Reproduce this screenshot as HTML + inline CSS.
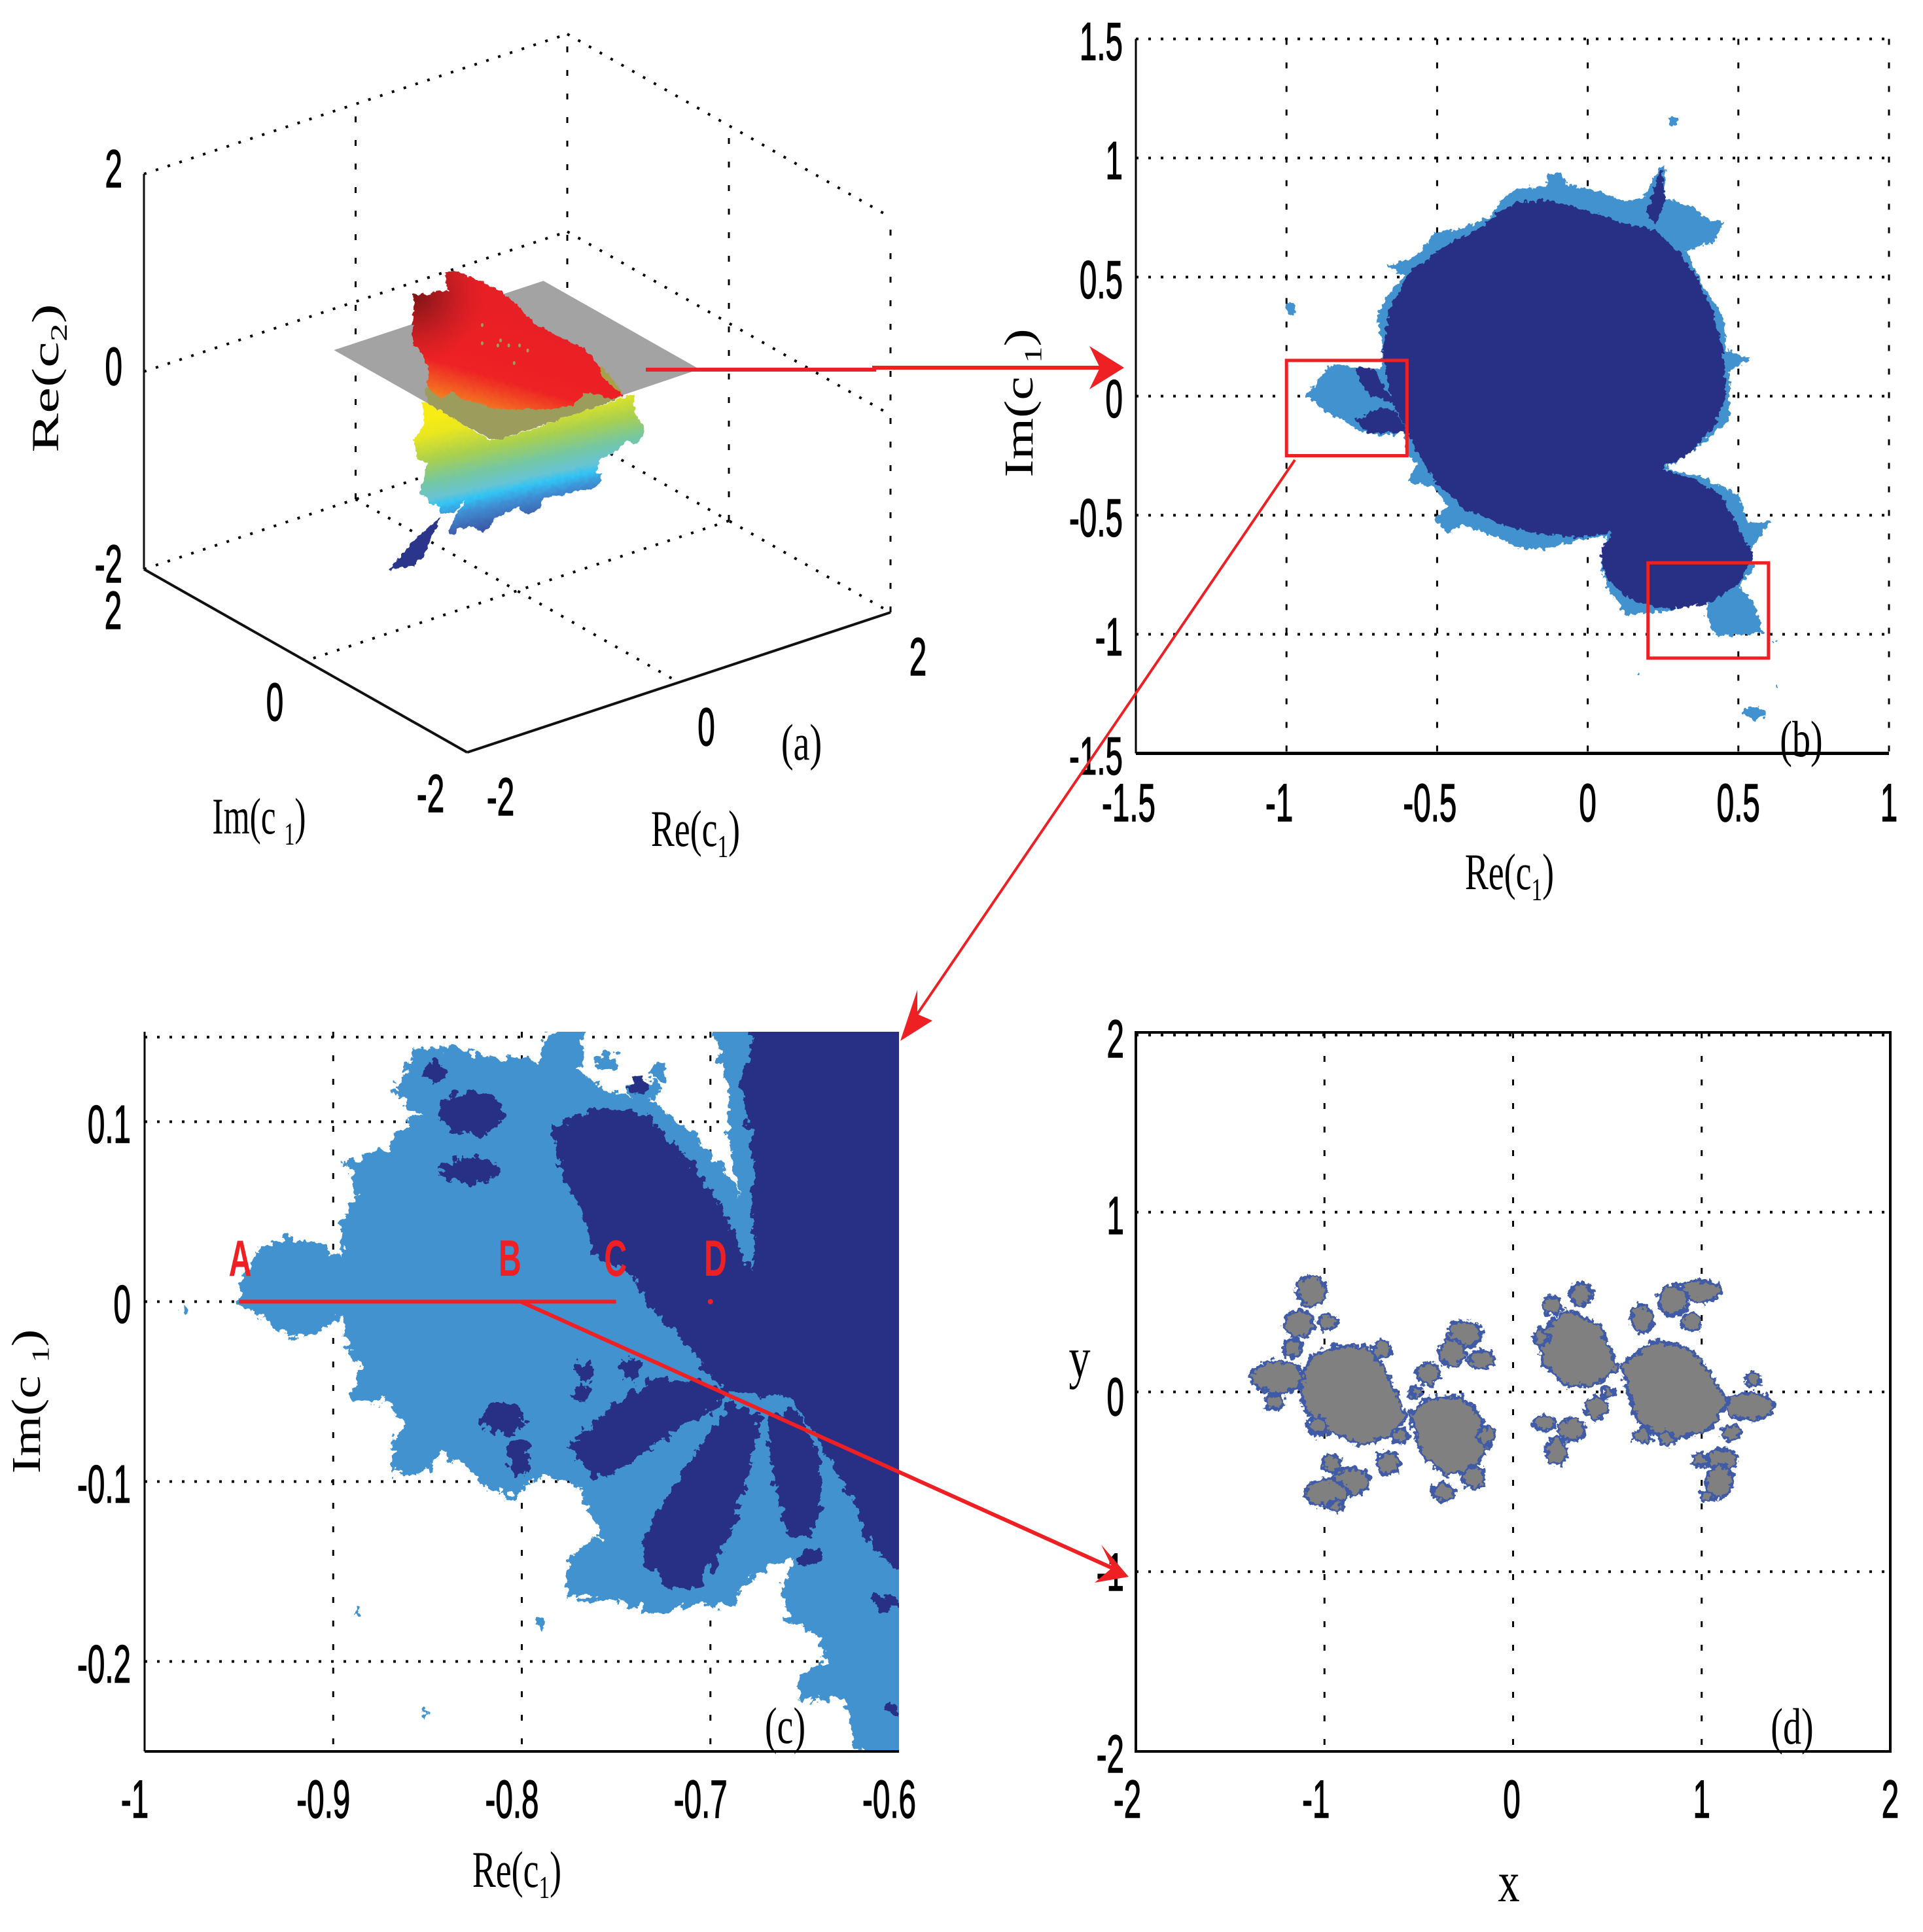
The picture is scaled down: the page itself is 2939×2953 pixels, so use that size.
<!DOCTYPE html>
<html lang="en">
<head>
<meta charset="utf-8">
<title>Parameter sets and Julia set figure</title>
<style>
html,body{margin:0;padding:0;background:#fff;}
svg{display:block;}
</style>
</head>
<body>
<svg id="figure" xmlns="http://www.w3.org/2000/svg" width="2939" height="2953" viewBox="0 0 2939 2953">
<defs>
<filter id="edge-fine" x="-5%" y="-5%" width="110%" height="110%" color-interpolation-filters="sRGB">
<feTurbulence type="fractalNoise" baseFrequency="0.07" numOctaves="4" seed="4" result="n"/>
<feDisplacementMap in="SourceGraphic" in2="n" scale="28" xChannelSelector="R" yChannelSelector="G"/>
</filter>
<filter id="edge-soft" x="-5%" y="-5%" width="110%" height="110%" color-interpolation-filters="sRGB">
<feTurbulence type="fractalNoise" baseFrequency="0.14" numOctaves="2" seed="9" result="n"/>
<feDisplacementMap in="SourceGraphic" in2="n" scale="12" xChannelSelector="R" yChannelSelector="G"/>
</filter>
<filter id="edge-surface" x="-5%" y="-5%" width="110%" height="110%" color-interpolation-filters="sRGB">
<feTurbulence type="fractalNoise" baseFrequency="0.14" numOctaves="2" seed="9" result="n"/>
<feDisplacementMap in="SourceGraphic" in2="n" scale="8" xChannelSelector="R" yChannelSelector="G"/>
</filter>
<filter id="edge-julia" x="-5%" y="-5%" width="110%" height="110%" color-interpolation-filters="sRGB">
<feTurbulence type="fractalNoise" baseFrequency="0.12" numOctaves="3" seed="6" result="n"/>
<feDisplacementMap in="SourceGraphic" in2="n" scale="16" xChannelSelector="R" yChannelSelector="G"/>
</filter>
<linearGradient id="jet-upper" gradientUnits="userSpaceOnUse" x1="682" y1="452" x2="632" y2="625">
<stop offset="0" stop-color="#e81f25"/><stop offset="0.55" stop-color="#ee2124"/><stop offset="0.8" stop-color="#f36f21"/><stop offset="1" stop-color="#fbb017"/>
</linearGradient>
<radialGradient id="dark-corner" gradientUnits="userSpaceOnUse" cx="635" cy="452" r="105">
<stop offset="0" stop-color="#7e1416" stop-opacity="1"/><stop offset="0.45" stop-color="#a81a1f" stop-opacity="0.75"/><stop offset="1" stop-color="#c41e23" stop-opacity="0"/>
</radialGradient>
<linearGradient id="jet-lower" gradientUnits="userSpaceOnUse" x1="740" y1="620" x2="794" y2="867">
<stop offset="0" stop-color="#f7ec13"/><stop offset="0.1" stop-color="#e9e620"/><stop offset="0.25" stop-color="#a9d04e"/><stop offset="0.38" stop-color="#76c7a0"/><stop offset="0.48" stop-color="#67c4d4"/><stop offset="0.53" stop-color="#31c3f4"/><stop offset="0.6" stop-color="#3f8fd4"/><stop offset="0.72" stop-color="#3d5ca9"/><stop offset="0.9" stop-color="#2d3c90"/><stop offset="1" stop-color="#272f83"/>
</linearGradient>
<clipPath id="clip-c"><rect x="221" y="1577" width="1153" height="1100"/></clipPath>
</defs>
<g id="panel-a"></g>
<g id="panel-b"></g>
<g id="panel-c"></g>
<g id="panel-d"></g>
<g id="annotations"></g>
</svg>
<script>
// ---------- panel a data (Re c1, Re c2 on the Im c1 = 0 sheet) ----------
const aTicks = [-2, 0, 2];
const aPlaneCorners = [[1.34,1.43],[1.34,-.5],[-.64,-.52],[-.64,1.43]];
const aSurfaceZOffset = .026;
const aSurfaceUpper = [[-.977,1.325],[-.811,1.255],[-.798,1.283],[-.657,1.245],[-.683,1.443],[-.606,1.427],[-.503,1.357],[-.388,1.261],[-.208,1.109],[-.055,.942],[.074,.754],[.150,.637],[.279,.513],[.458,.351],[.637,.199],[.740,.029],[.868,-.194],[1.009,-.400],[.919,-.412],[.637,-.245],[.535,-.331],[.355,-.314],[.022,-.196],[-.208,-.114],[-.311,-.032],[-.516,.095],[-.618,.220],[-.708,.163],[-.849,.324],[-.836,.498],[-.900,.697],[-.990,.818]];
const aSurfaceOlive = [[-.875,.333],[-.772,.297],[-.708,.163],[-.618,.220],[-.311,-.032],[.022,-.196],[.355,-.314],[.535,-.331],[.637,-.245],[.766,-.280],[.919,-.390],[.996,-.417],[.714,-.429],[.355,-.436],[.125,-.431],[-.157,-.444],[-.260,-.395],[-.567,-.110],[-.849,.179]];
const aSurfaceOliveEdge = [[.791,-.022],[1.009,-.400],[.919,-.301],[.791,-.122]];
const aSurfaceSpecks = [[-.331,.781],[-.157,.564],[-.183,.522],[-.080,.486],[.022,.450],[-.331,.597],[.099,.371],[-.029,.290]];
const aSurfaceLower = [[-.900,.197],[-.849,.179],[-.567,-.110],[-.260,-.407],[-.157,-.444],[.355,-.436],[.714,-.429],[.996,-.428],[1.099,-.432],[1.111,-.613],[1.201,-.812],[1.188,-.862],[1.137,-.945],[1.035,-.886],[.894,-.959],[.791,-.967],[.740,-1.093],[.791,-1.123],[.791,-1.211],[.689,-1.242],[.535,-1.209],[.407,-1.209],[.253,-1.177],[.202,-1.269],[.099,-1.288],[-.003,-1.175],[-.131,-1.207],[-.208,-1.213],[-.311,-1.332],[-.413,-1.230],[-.567,-1.198],[-.593,-1.256],[-.644,-1.214],[-.606,-1.095],[-.516,-.972],[-.477,-.929],[-.593,-1.023],[-.721,-.987],[-.734,-.906],[-.836,-.847],[-.862,-.760],[-.913,-.731],[-.913,-.653],[-.849,-.443],[-.939,-.355],[-.977,-.164],[-.900,-.047],[-.875,.022]];
const aSurfaceSliver = [[-.721,-1.015],[-.811,-1.201],[-.875,-1.356],[-.977,-1.431],[-1.208,-1.382],[-1.080,-1.261],[-.952,-1.151]];

// ---------- panel b data (Re c1, Im c1) ----------
const bXTicks = [-1.5,-1,-.5,0,.5,1];
const bXTickLabels = ['-1.5','-1','-0.5','0','0.5','1'];
const bYTicks = [1.5,1,.5,0,-.5,-1,-1.5];
const bYTickLabels = ['1.5','1','0.5','0','-0.5','-1','-1.5'];
const bLightRegion = [[-.670,.547],[-.599,.573],[-.558,.598],[-.507,.689],[-.426,.702],[-.324,.754],[-.293,.819],[-.242,.870],[-.141,.883],[-.130,.935],[-.090,.940],[-.069,.889],[.043,.858],[.124,.819],[.185,.832],[.236,.961],[.257,.961],[.257,.832],[.348,.793],[.399,.741],[.450,.733],[.420,.650],[.328,.611],[.379,.469],[.450,.339],[.460,.197],[.542,.158],[.470,.106],[.470,-.101],[.348,-.231],[.257,-.308],[.369,-.334],[.501,-.412],[.532,-.528],[.609,-.528],[.572,-.593],[.542,-.645],[.552,-.723],[.501,-.800],[.552,-.865],[.582,-.995],[.430,-1.008],[.393,-.930],[.399,-.865],[.226,-.909],[.124,-.917],[.063,-.800],[.043,-.723],[.063,-.588],[-.039,-.606],[-.141,-.645],[-.242,-.632],[-.324,-.580],[-.415,-.541],[-.466,-.580],[-.507,-.515],[-.466,-.464],[-.507,-.386],[-.599,-.360],[-.568,-.282],[-.599,-.244],[-.609,-.153],[-.690,-.166],[-.772,-.140],[-.813,-.101],[-.874,-.062],[-.935,.003],[-.853,.132],[-.690,.114],[-.680,.184],[-.701,.339],[-.650,.443],[-.609,.508]];
const bDarkRegion = [[-.303,.767],[-.242,.811],[-.151,.826],[-.069,.806],[.022,.767],[.114,.728],[.226,.697],[.308,.598],[.369,.482],[.420,.339],[.450,.184],[.460,.003],[.420,-.127],[.348,-.231],[.246,-.308],[.348,-.347],[.440,-.412],[.495,-.541],[.552,-.671],[.501,-.788],[.409,-.865],[.308,-.891],[.226,-.891],[.134,-.852],[.053,-.749],[.043,-.645],[.084,-.573],[-.039,-.593],[-.161,-.580],[-.283,-.541],[-.405,-.477],[-.507,-.360],[-.568,-.231],[-.650,-.023],[-.680,.184],[-.660,.365],[-.589,.521],[-.466,.637],[-.344,.715]];
const bDarkFanUpper = [[-.772,.119],[-.711,.119],[-.670,.028],[-.629,-.036],[-.721,.003],[-.751,.054]];
const bDarkFanLower = [[-.772,-.101],[-.690,-.049],[-.639,-.062],[-.599,-.153],[-.670,-.153],[-.731,-.153]];
const bDarkSpike = [[.246,.961],[.257,.832],[.226,.715],[.196,.767],[.216,.855]];
const bIslands = [[.283,1.155,.014,.02],[-.986,.365,.016,.026],[.552,-1.332,.037,.026],[.168,-1.17,.004,.006],[.62,-1.03,.003,.005],[.63,-1.215,.004,.005]];
const bZoomBoxes = [[-1,-.6,-.25,.15],[.2,.6,-1.1,-.7]];

// ---------- panel c data (Re c1, Im c1) ----------
const cXTicks = [-1,-.9,-.8,-.7,-.6];
const cXTickLabels = ['-1','-0.9','-0.8','-0.7','-0.6'];
const cYTicks = [.1,0,-.1,-.2];
const cYTickLabels = ['0.1','0','-0.1','-0.2'];
const cLightRegion = [[-.9515,0],[-.950,.0085],[-.940,.029],[-.924,.036],[-.904,.031],[-.895,.022],[-.896,.043],[-.888,.060],[-.893,.077],[-.872,.084],[-.860,.101],[-.852,.102],[-.869,.116],[-.860,.132],[-.856,.140],[-.836,.142],[-.817,.135],[-.791,.135],[-.787,.148],[-.765,.16],[-.769,.128],[-.752,.116],[-.732,.113],[-.709,.094],[-.688,.067],[-.678,.032],[-.677,.017],[-.679,.026],[-.685,.056],[-.688,.080],[-.691,.101],[-.690,.118],[-.695,.135],[-.701,.16],[-.59,.16],[-.59,-.26],[-.618,-.26],[-.623,-.244],[-.630,-.220],[-.644,-.222],[-.654,-.222],[-.651,-.207],[-.639,-.200],[-.644,-.184],[-.659,-.176],[-.662,-.159],[-.657,-.143],[-.672,-.150],[-.683,-.157],[-.688,-.169],[-.709,-.169],[-.732,-.173],[-.752,-.166],[-.776,-.164],[-.776,-.142],[-.758,-.130],[-.765,-.114],[-.771,-.101],[-.791,-.097],[-.807,-.109],[-.817,-.104],[-.826,-.094],[-.844,-.084],[-.849,-.094],[-.869,-.097],[-.869,-.077],[-.860,-.068],[-.873,-.055],[-.891,-.055],[-.885,-.036],[-.893,-.026],[-.895,-.007],[-.906,-.017],[-.924,-.019],[-.937,-.009]];
const cDarkMain = [[-.678,.16],[-.59,.16],[-.59,-.155],[-.6,-.150],[-.615,-.135],[-.626,-.108],[-.639,-.084],[-.657,-.053],[-.670,-.053],[-.693,-.050],[-.713,-.024],[-.732,-.002],[-.742,.015],[-.761,.026],[-.768,.050],[-.778,.070],[-.784,.096],[-.765,.106],[-.752,.109],[-.732,.102],[-.714,.082],[-.696,.056],[-.680,.022],[-.677,.017],[-.678,.050],[-.677,.084],[-.685,.121],[-.677,.142]];
const cDarkLobeLeft = [[-.755,-.060],[-.732,-.044],[-.709,-.043],[-.691,-.051],[-.698,-.060],[-.726,-.077],[-.752,-.097],[-.763,-.097],[-.776,-.080],[-.765,-.072]];
const cDarkLobeMiddle = [[-.673,-.063],[-.680,-.097],[-.690,-.132],[-.706,-.159],[-.722,-.159],[-.737,-.142],[-.734,-.128],[-.719,-.101],[-.698,-.070],[-.690,-.055]];
const cDarkLobeRight = [[-.669,-.063],[-.669,-.084],[-.665,-.104],[-.660,-.128],[-.647,-.132],[-.641,-.111],[-.643,-.084],[-.654,-.060]];
const cDarkIslands = [[-.766,-.039,.005,.006],[-.768,-.051,.005,.005],[-.742,-.038,.005,.007],[-.810,-.065,.011,.009],[-.802,-.087,.006,.010],[-.828,.073,.016,.007],[-.827,.105,.017,.012],[-.846,.128,.006,.005],[-.737,.120,.005,.005],[-.647,-.142,.006,.005],[-.607,-.167,.007,.004],[-.604,-.227,.003,.004]];
const cLightIslands = [[-.790,-.179,.0025,.0025],[-.979,-.004,.002,.002],[-.852,-.228,.0012,.002],[-.887,-.172,.001,.0015],[-.755,.133,.006,.005],[-.727,.128,.004,.006],[-.735,.118,.009,.005]];
const cSegment = [-.95,-.75];
const cPointD = [-.7,0];
const cPointLabels = ['A','B','C','D'];
const cPointLabelRe = [-.950,-.807,-.751,-.698];

// ---------- panel d data (x, y) ----------
const dXTicks = [-2,-1,0,1,2];
const dYTicks = [2,1,0,-1,-2];
const dTickLabels = ['-2','-1','0','1','2'];
const dLenses = [
 [[-1.135,.065],[-1.070,.202],[-.940,.253],[-.777,.253],[-.680,.133],[-.566,-.140],[-.647,-.243],[-.810,-.294],[-.972,-.226],[-1.102,-.106]],
 [[-.550,-.123],[-.452,-.038],[-.289,-.021],[-.192,-.106],[-.111,-.277],[-.208,-.431],[-.354,-.465],[-.485,-.345]],
 [[.572,.150],[.751,.287],[.946,.236],[1.044,.099],[1.141,-.055],[1.044,-.209],[.816,-.277],[.654,-.157]],
 [[.556,.133],[.459,.373],[.280,.458],[.150,.338],[.150,.168],[.280,.031],[.426,.031]]
];
const dBuds = [[-1.070,.561,.065,.068],[-1.135,.379,.065,.062],[-.982,.390,.039,.034],[-1.167,.243,.039,.041],[-1.249,.082,.114,.075],[-1.265,-.055,.039,.034],[-.696,.236,.039,.041],[-.452,.099,.049,.051],[-.517,-.003,.026,.027],[-.257,.321,.072,.062],[-.322,.219,.059,.062],[-.166,.178,.059,.041],[-.663,-.397,.049,.051],[-.598,-.243,.033,.034],[-.963,-.397,.039,.041],[-.859,-.499,.081,.062],[-.989,-.561,.091,.062],[-.940,-.636,.026,.027],[-.371,-.557,.046,.041],[-.208,-.475,.049,.051],[-.143,-.243,.039,.041],[-1.037,-.191,.039,.041],[.995,.561,.091,.048],[.849,.509,.065,.068],[.946,.390,.039,.041],[.686,.407,.049,.062],[.361,.544,.049,.051],[.205,.482,.039,.041],[.150,.304,.033,.034],[.442,-.089,.049,.051],[.507,-.003,.026,.027],[.166,-.174,.049,.034],[.312,-.209,.059,.051],[.231,-.328,.046,.062],[1.109,-.379,.065,.051],[1.093,-.499,.059,.075],[.995,-.379,.033,.034],[1.028,-.578,.026,.027],[1.255,-.079,.104,.062],[1.272,.065,.033,.034],[1.158,-.226,.039,.034],[.686,-.243,.039,.034],[.816,-.260,.033,.034]];

// ---------- scales ----------
const NAVY = '#283085', SKY = '#4292d0', RED = '#ee2024';
const NS = 'http://www.w3.org/2000/svg';
const SANS = '"Liberation Sans", sans-serif';
const SERIF = '"Liberation Serif", serif';
function linear(d0, d1, r0, r1) { return v => r0 + (v - d0) * (r1 - r0) / (d1 - d0); }
const bx = linear(-1.5, 1, 1736, 2887), by = linear(-1.5, 1.5, 1151.5, 59.5);
const cx = linear(-1, -.6, 221, 1374), cy = linear(-.25, .15, 2677, 1577);
const dx = linear(-2, 2, 1736, 2889), dy = linear(-2, 2, 2677, 1578);
function project(re, im, z) {
  return [790.5 + re * 161.75 - im * 123.5, 601 - re * 53.5 - im * 70 - z * 151];
}

// ---------- primitives ----------
function make(parent, tag, attrs) {
  const el = document.createElementNS(NS, tag);
  for (const k in attrs) el.setAttribute(k, attrs[k]);
  parent.appendChild(el);
  return el;
}
function group(parent, name, attrs) {
  const el = make(parent, 'g', attrs || {});
  
  
  return el;
}
function line(parent, name, x1, y1, x2, y2, stroke, width, dash) {
  const attrs = {x1, y1, x2, y2, stroke, 'stroke-width': width};
  if (dash) attrs['stroke-dasharray'] = dash;
  const el = make(parent, 'line', attrs);
  
  
  return el;
}
function poly(parent, name, points, fill) {
  const el = make(parent, 'polygon', {points: points.map(p => p[0].toFixed(1) + ',' + p[1].toFixed(1)).join(' '), fill});
  
  
  return el;
}
function polyline(parent, name, points, stroke, width) {
  const el = make(parent, 'polyline', {points: points.map(p => p.join(',')).join(' '), fill: 'none', stroke, 'stroke-width': width});
  
  
  return el;
}
function ellipse(parent, name, x, y, rx, ry, fill, extra) {
  const el = make(parent, 'ellipse', Object.assign({cx: x, cy: y, rx, ry, fill}, extra || {}));
  
  
  return el;
}
function tickText(parent, name, str, x, y, anchor) {
  const el = make(parent, 'text', {transform: `translate(${x},${y}) scale(.58,1)`, 'font-family': SANS, 'font-size': 82, 'text-anchor': anchor || 'middle', fill: '#000', stroke: '#000', 'stroke-width': 1.5});
  el.textContent = str;
  
  
  return el;
}
function plainLabel(parent, name, str, x, y, size, sx, family, fill, weight) {
  const el = make(parent, 'text', {transform: `translate(${x},${y}) scale(${sx},1)`, 'font-family': family, 'font-size': size, 'font-weight': weight || 'normal', 'text-anchor': 'middle', fill: fill || '#000'});
  el.textContent = str;
  
  
  return el;
}
function axisLabel(parent, name, head, sub, x, y, size, sx, rotate, gap) {
  const t = rotate ? `translate(${x},${y}) rotate(-90) scale(${sx},1)` : `translate(${x},${y}) scale(${sx},1)`;
  const el = make(parent, 'text', {transform: t, 'font-family': SERIF, 'font-size': size, 'text-anchor': 'middle', fill: '#000'});
  
  
  el.appendChild(document.createTextNode(head));
  const s = make(el, 'tspan', {dy: size * .22, dx: gap || 0, 'font-size': size * .62});
  s.textContent = sub;
  const c = make(el, 'tspan', {dy: -size * .22, dx: gap || 0});
  c.textContent = ')';
  return el;
}

const DOT = '4 15', DASH = '9 27';

// ---------- panel a ----------
(function () {
  const root = document.getElementById('panel-a');
  const grid = group(root, 'grid-3d');
  const at = (re, im, z) => project(re, im, z);
  const sheet = p => at(p[0], 0, p[1] + aSurfaceZOffset);
  function seg(name, a, b, dash, w) {
    line(grid, name, a[0], a[1], b[0], b[1], '#000', w, dash);
  }
  aTicks.forEach(z => {
    seg('back-wall-gridline', at(-2, 2, z), at(2, 2, z), DOT, 4);
    seg('side-wall-gridline', at(2, 2, z), at(2, -2, z), DOT, 4);
  });
  aTicks.forEach(im => {
    seg('wall-vertical-gridline', at(2, im, -2), at(2, im, 2), DASH, 3);
  });
  aTicks.forEach(re => {
    if (re > -2) seg('wall-vertical-gridline', at(re, 2, -2), at(re, 2, 2), DASH, 3);
  });
  seg('floor-gridline', at(0, 2, -2), at(0, -2, -2), DOT, 4);
  seg('floor-gridline', at(2, 0, -2), at(-2, 0, -2), DOT, 4);

  poly(root, 'zero-plane', aPlaneCorners.map(p => at(p[0], p[1], 0)), '#a3a3a3');
  const surface = group(root, 'parameter-surface', {filter: 'url(#edge-surface)'});
  poly(surface, 'surface-below-plane', aSurfaceLower.map(sheet), 'url(#jet-lower)');
  poly(surface, 'surface-lower-tail', aSurfaceSliver.map(sheet), '#2c358c');
  poly(surface, 'surface-under-plane', aSurfaceOlive.map(sheet), '#9c9c5c');
  poly(surface, 'surface-above-plane', aSurfaceUpper.map(sheet), 'url(#jet-upper)');
  poly(surface, 'surface-dark-corner', aSurfaceUpper.map(sheet), 'url(#dark-corner)');
  poly(surface, 'surface-plane-edge', aSurfaceOliveEdge.map(sheet), '#a8a04a');
  aSurfaceSpecks.forEach(p => {
    const s = sheet(p);
    ellipse(root, 'surface-speck', s[0], s[1], 2, 3, '#9aa05a');
  });

  const axes = group(root, 'axes-3d');
  function axis(name, a, b, w) {
    line(axes, name, a[0], a[1], b[0], b[1], '#111', w);
  }
  axis('z-axis', at(-2, 2, -2), at(-2, 2, 2), 3);
  axis('im-axis', at(-2, 2, -2), at(-2, -2, -2), 4);
  axis('re-axis', at(-2, -2, -2), at(2, -2, -2), 4);

  aTicks.forEach(v => {
    const p = at(-2, 2, v);
    tickText(axes, 'z-tick-label', String(v), 187, p[1] + 20, 'end');
  });
  aTicks.forEach(v => {
    const p = at(-2, v, -2);
    tickText(axes, 'im-tick-label', String(v), p[0] - 47 - (v < 0 ? 9 : 0), p[1] + 91);
  });
  aTicks.forEach(v => {
    const p = at(v, -2, -2);
    tickText(axes, 're-tick-label', String(v), p[0] + 42 + (v < 0 ? 9 : 0), p[1] + 96);
  });
  axisLabel(root, 'z-axis-title', 'Re(c', '2', 89, 578, 58, 1.55, true);
  axisLabel(root, 'im-axis-title', 'Im(c ', '1', 396, 1274, 78, .66, false);
  axisLabel(root, 're-axis-title', 'Re(c', '1', 1063, 1293, 78, .69, false);
  plainLabel(root, 'panel-label-a', '(a)', 1225, 1161, 78, .72, SERIF);
})();

// ---------- panel b ----------
(function () {
  const root = document.getElementById('panel-b');
  const grid = group(root, 'grid-b');
  bXTicks.forEach(v => {
    if (v > -1.5) line(grid, 'x-gridline', bx(v), by(1.5), bx(v), by(-1.5), '#000', 3, DASH);
  });
  bYTicks.forEach(v => {
    if (v > -1.5) line(grid, 'y-gridline', bx(-1.5), by(v), bx(1), by(v), '#000', 4, DOT);
  });
  const m = p => [bx(p[0]), by(p[1])];
  const data = group(root, 'parameter-slice-regions', {filter: 'url(#edge-soft)'});
  poly(data, 'bounded-light-region', bLightRegion.map(m), SKY);
  bIslands.forEach(i => {
    ellipse(data, 'light-island', bx(i[0]), by(i[1]), i[2] * 460, i[3] * 364, SKY);
  });
  poly(data, 'bounded-dark-region', bDarkRegion.map(m), NAVY);
  poly(data, 'dark-fan-upper', bDarkFanUpper.map(m), NAVY);
  poly(data, 'dark-fan-lower', bDarkFanLower.map(m), NAVY);
  poly(data, 'dark-spike', bDarkSpike.map(m), NAVY);

  line(root, 'y-axis', bx(-1.5), by(1.5), bx(-1.5), by(-1.5), '#000', 3);
  line(root, 'x-axis', bx(-1.5), by(-1.5), bx(1), by(-1.5), '#000', 5);

  bZoomBoxes.forEach(b => {
    const el = make(root, 'rect', {x: bx(b[0]), y: by(b[3]), width: bx(b[1]) - bx(b[0]), height: by(b[2]) - by(b[3]), fill: 'none', stroke: RED, 'stroke-width': 5});
    
    
  });

  bYTicks.forEach((v, i) => {
    tickText(root, 'y-tick-label', bYTickLabels[i], 1716, by(v) + 32, 'end');
  });
  bXTicks.forEach((v, i) => {
    tickText(root, 'x-tick-label', bXTickLabels[i], bx(v) - (v < 0 ? 11 : 0), 1255);
  });
  axisLabel(root, 'x-axis-title', 'Re(c', '1', 2307, 1359, 78, .69, false);
  axisLabel(root, 'y-axis-title', 'Im(c ', '1', 1578, 616, 62, 1.32, true);
  plainLabel(root, 'panel-label-b', '(b)', 2753, 1156, 78, .72, SERIF);
})();

// ---------- panel c ----------
(function () {
  const root = document.getElementById('panel-c');
  const grid = group(root, 'grid-c');
  cXTicks.forEach(v => {
    if (v > -1 && v < -.6) line(grid, 'x-gridline', cx(v), cy(.15), cx(v), cy(-.25), '#000', 3, DASH);
  });
  cYTicks.forEach(v => {
    line(grid, 'y-gridline', cx(-1), cy(v), cx(-.6), cy(v), '#000', 4, DOT);
  });
  line(grid, 'top-gridline', cx(-1), cy(.147), cx(-.6), cy(.147), '#000', 4, DOT);

  const m = p => [cx(p[0]), cy(p[1])];
  const clip = group(root, 'zoomed-slice-clip', {'clip-path': 'url(#clip-c)'});
  const data = group(clip, 'zoomed-slice-regions', {filter: 'url(#edge-fine)'});
  poly(data, 'light-region', cLightRegion.map(m), SKY);
  cLightIslands.forEach(i => {
    ellipse(data, 'light-island', cx(i[0]), cy(i[1]), i[2] * 2882, i[3] * 2750, SKY);
  });
  poly(data, 'dark-main-region', cDarkMain.map(m), NAVY);
  poly(data, 'dark-lobe-left', cDarkLobeLeft.map(m), NAVY);
  poly(data, 'dark-lobe-middle', cDarkLobeMiddle.map(m), NAVY);
  poly(data, 'dark-lobe-right', cDarkLobeRight.map(m), NAVY);
  cDarkIslands.forEach(i => {
    ellipse(data, 'dark-island', cx(i[0]), cy(i[1]), i[2] * 2882, i[3] * 2750, NAVY);
  });

  line(root, 'y-axis', cx(-1), cy(.15), cx(-1), cy(-.25), '#000', 3);
  line(root, 'x-axis', cx(-1), cy(-.25), cx(-.6), cy(-.25), '#000', 4);

  line(root, 'segment-a-c', cx(cSegment[0]), cy(0), cx(cSegment[1]), cy(0), RED, 6);
  ellipse(root, 'point-d', cx(cPointD[0]), cy(cPointD[1]), 4, 4, RED);
  cPointLabels.forEach((s, i) => {
    plainLabel(root, 'point-label', s, cx(cPointLabelRe[i]) + 2, 1950, 78, .62, SANS, RED, 'bold');
  });

  cYTicks.forEach((v, i) => {
    tickText(root, 'y-tick-label', cYTickLabels[i], 200, cy(v) + 32, 'end');
  });
  cXTicks.forEach((v, i) => {
    tickText(root, 'x-tick-label', cXTickLabels[i], cx(v) - 15, 2778);
  });
  axisLabel(root, 'x-axis-title', 'Re(c', '1', 790, 2884, 78, .69, false);
  axisLabel(root, 'y-axis-title', 'Im(c ', '1', 61, 2142, 62, 1.28, true);
  plainLabel(root, 'panel-label-c', '(c)', 1200, 2664, 78, .72, SERIF);
})();

// ---------- panel d ----------
(function () {
  const root = document.getElementById('panel-d');
  const grid = group(root, 'grid-d');
  dXTicks.forEach(v => {
    if (Math.abs(v) < 2) line(grid, 'x-gridline', dx(v), dy(2), dx(v), dy(-2), '#000', 3, DASH);
  });
  dYTicks.forEach(v => {
    if (Math.abs(v) < 2) line(grid, 'y-gridline', dx(-2), dy(v), dx(2), dy(v), '#000', 4, DOT);
  });
  line(grid, 'top-gridline', dx(-2), dy(1.985), dx(2), dy(1.985), '#000', 4, DOT);

  const data = group(root, 'julia-set', {filter: 'url(#edge-julia)'});
  const OUT = {stroke: '#3f5aa6', 'stroke-width': 5};
  dLenses.forEach(l => {
    const el = poly(data, 'julia-lobe', l.map(p => [dx(p[0]), dy(p[1])]), '#808080');
    el.setAttribute('stroke', OUT.stroke);
    el.setAttribute('stroke-width', OUT['stroke-width']);
  });
  dBuds.forEach(b => {
    ellipse(data, 'julia-bud', dx(b[0]), dy(b[1]), b[2] * 345, b[3] * 329, '#808080', OUT);
  });

  const frame = make(root, 'rect', {x: dx(-2), y: dy(2), width: dx(2) - dx(-2), height: dy(-2) - dy(2), fill: 'none', stroke: '#000', 'stroke-width': 4});
  
  

  const yBaselines = {'2': 1616, '1': 1886, '0': 2163, '-1': 2431, '-2': 2709};
  dYTicks.forEach(v => {
    tickText(root, 'y-tick-label', dTickLabels[v + 2], 1718, yBaselines[String(v)], 'end');
  });
  dXTicks.forEach(v => {
    tickText(root, 'x-tick-label', dTickLabels[v + 2], dx(v) - (v < 0 ? 13 : 0) - (v === 0 ? 2 : 0), 2778);
  });
  plainLabel(root, 'x-axis-title', 'x', 2306, 2906, 88, .75, SERIF);
  plainLabel(root, 'y-axis-title', 'y', 1650, 2105, 88, .75, SERIF);
  plainLabel(root, 'panel-label-d', '(d)', 2739, 2665, 78, .72, SERIF);
})();

// ---------- annotation arrows ----------
(function () {
  const root = document.getElementById('annotations');
  polyline(root, 'arrow-surface-to-slice', [[987,565],[1336,565],[1336,562],[1685,562]], RED, 6);
  poly(root, 'arrowhead-slice', [[1665,529],[1718,562],[1665,595],[1681,562]], RED);
  polyline(root, 'arrow-box-to-zoom', [[1979,703],[1395,1560]], RED, 4);
  poly(root, 'arrowhead-zoom', [[1402,1513],[1376,1591],[1425,1560],[1402,1550]], RED);
  polyline(root, 'arrow-point-to-julia', [[797,1990],[1705,2399]], RED, 6);
  poly(root, 'arrowhead-julia', [[1683,2361],[1725,2410],[1673,2419],[1700,2396]], RED);
})();
</script>
</body>
</html>
